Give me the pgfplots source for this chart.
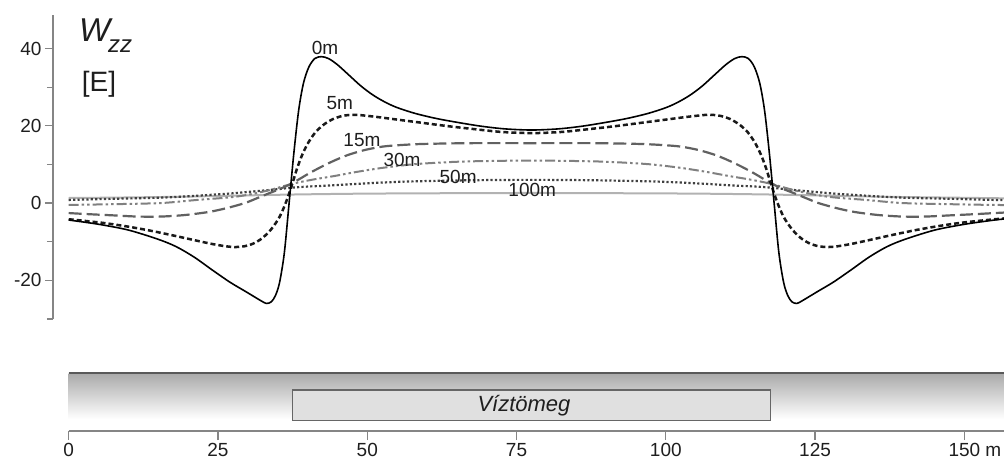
\documentclass[border=0pt]{standalone}
\usepackage{fontspec}
\setmainfont{Liberation Sans}
\usepackage{pgfplots}
\pgfplotsset{compat=1.18}
\definecolor{axgray}{HTML}{858585}
\definecolor{txt}{HTML}{1E1E1E}
\begin{document}
\begin{tikzpicture}[x=1pt,y=1pt]
\useasboundingbox (0,0) rectangle (1004,464);
\begin{axis}[
  at={(53pt,145.1pt)}, anchor=south west,
  scale only axis, width=951.3pt, height=303.9pt,
  xmin=-2.63, xmax=156.64, ymin=-30, ymax=48.68,
  axis x line=none, axis y line*=left,
  y axis line style={draw=axgray, line width=1.5pt},
  ytick={-20,0,20,40}, minor ytick={-30,-10,10,30},
  tick align=outside, major tick length=8pt, minor tick length=6pt,
  tick style={draw=axgray, line width=1.2pt},
  yticklabel style={font=\fontsize{19}{22}\selectfont, text=txt},
  /pgf/number format/assume math mode=true,
  every axis plot/.append style={smooth, tension=0.5},
]
% 100 m
\addplot[color=black!30, line width=2pt] coordinates {
(0,1.3) (7.5,1.4) (17.5,1.6) (27.5,1.9) (37.5,2.2) (47.5,2.4) (57.5,2.5) (77.5,2.6)
(97.5,2.5) (107.5,2.4) (117.5,2.2) (127.5,1.9) (137.5,1.6) (147.5,1.4) (157.5,1.2)};
% 50 m
\addplot[color=black!75, line width=2.2pt, dash pattern=on 2.2pt off 2.2pt] coordinates {
(0,0.8) (7.5,1.1) (15.5,1.4) (21.5,1.9) (26.5,2.4) (29.5,2.8) (34.5,3.5) (37.5,4.0) (40.5,4.3) (44.5,4.6) (47.5,4.9) (52.5,5.3) (57.5,5.6) (67.5,5.9) (77.5,6.0)
(87.5,5.9) (97.5,5.6) (102.5,5.3) (107.5,4.9) (110.5,4.6) (114.5,4.3) (117.5,4.0) (120.5,3.5) (125.5,2.8) (128.5,2.4) (133.5,1.9) (139.5,1.4) (147.5,1.1) (155,0.8) (157.5,0.8)};
% 30 m
\addplot[color=black!50, line width=2pt, dash pattern=on 10pt off 3pt on 2.5pt off 3pt on 2.5pt off 3pt] coordinates {
(0,-0.5) (7.5,-0.3) (15.5,0.0) (21.5,0.8) (26.5,1.4) (29.5,2.0) (33.5,3.3) (37.5,5.0) (41,6.1) (44.5,7.0) (48,8.0) (52.5,9.1) (57.5,10.0) (62.5,10.5) (67.5,10.8) (77.5,11.0)
(87.5,10.8) (92.5,10.5) (97.5,10.0) (102.5,9.1) (107,8.0) (110.5,7.0) (114,6.1) (117.5,5.0) (121.5,3.3) (125.5,2.0) (128.5,1.4) (133.5,0.8) (139.5,0.0) (147.5,-0.3) (155,-0.5) (157.5,-0.5)};
% 15 m
\addplot[color=black!62, line width=2.2pt, dash pattern=on 13pt off 5pt] coordinates {
(0,-2.6) (3.5,-2.9) (7.5,-3.2) (11.5,-3.5) (15.5,-3.5) (19.5,-3.1) (23.5,-2.3) (26.5,-1.3) (29.5,0.0) (31.3,1.1) (33.5,2.5) (35.3,3.6) (37.5,5.2) (40.5,7.9) (43.5,10.3) (46.5,12.3) (49.5,13.7) (52.5,14.6) (55.5,15.0) (59.5,15.3) (67.5,15.5) (77.5,15.5)
(87.5,15.5) (95.5,15.3) (99.5,15.0) (102.5,14.6) (105.5,13.7) (108.5,12.3) (111.5,10.3) (114.5,7.9) (117.5,5.2) (119.7,3.6) (121.5,2.5) (123.7,1.1) (125.5,0.0) (128.5,-1.3) (131.5,-2.3) (135.5,-3.1) (139.5,-3.5) (143.5,-3.5) (147.5,-3.2) (151.5,-2.9) (155,-2.6) (157.5,-2.4)};
% 5 m
\addplot[color=black!90, line width=2.5pt, dash pattern=on 5pt off 3pt] coordinates {
(0,-4.2) (5.5,-5.1) (9.5,-6.0) (13.5,-7.1) (17.5,-8.4) (21,-9.6) (24,-10.6) (26.3,-11.2) (27.9,-11.4) (29.4,-11.2) (30.9,-10.5) (32.4,-9.1) (33.9,-6.8) (35.3,-3.6) (36.4,0.3) (37.4,4.8) (38.2,8.8) (39.1,12.5) (40.1,15.6) (41.3,18.3) (42.7,20.3) (44.2,21.7) (45.7,22.5) (47,22.8) (48.5,22.8) (51.5,22.3) (54.5,21.7) (58.5,20.9) (63.5,19.9) (67.5,19.2) (72.5,18.4) (77.5,18.1)
(82.5,18.4) (87.5,19.2) (91.5,19.9) (96.5,20.9) (100.5,21.7) (103.5,22.3) (106.5,22.8) (108,22.8) (109.3,22.5) (110.8,21.7) (112.3,20.3) (113.7,18.3) (114.9,15.6) (115.9,12.5) (116.8,8.8) (117.6,4.8) (118.6,0.3) (119.7,-3.6) (121.1,-6.8) (122.6,-9.1) (124.1,-10.5) (125.6,-11.2) (127.1,-11.4) (128.7,-11.2) (131,-10.6) (134,-9.6) (137.5,-8.4) (141.5,-7.1) (145.5,-6.0) (149.5,-5.1) (155,-4.2) (157.5,-3.9)};
% 0 m
\addplot[color=black, line width=1.6pt] coordinates {
(0,-4.4) (5,-5.5) (10,-7.0) (15,-9.4) (18,-11.3) (21,-14.0) (24,-17.3) (27,-20.5) (29.5,-22.8) (31,-24.2) (32.3,-25.4) (33.1,-26.0) (33.9,-25.6) (34.6,-24.0) (35.3,-20.6) (36.1,-12.9) (36.9,0) (37.7,13) (38.5,24) (39.3,31.0) (40.2,35.2) (41.2,37.4) (42.3,37.9) (43.5,37.4) (45,35.8) (47,33.0) (49,30.2) (51,27.9) (53,26.1) (55,24.7) (58,23.2) (61.5,21.9) (65,20.9) (69,19.9) (73,19.2) (77.5,18.9)
(82,19.2) (86,19.9) (90,20.9) (93.5,21.9) (97,23.2) (100,24.7) (102,26.1) (104,27.9) (106,30.2) (108,33.0) (110,35.8) (111.5,37.4) (112.7,37.9) (113.8,37.4) (114.8,35.2) (115.7,31.0) (116.5,24) (117.3,13) (118.1,0) (118.9,-12.9) (119.7,-20.6) (120.4,-24.0) (121.1,-25.6) (121.9,-26.0) (122.7,-25.4) (124,-24.2) (125.5,-22.8) (128,-20.5) (131,-17.3) (134,-14.0) (137,-11.3) (140,-9.4) (145,-7.0) (150,-5.5) (155,-4.4) (157.5,-4.0)};
\begin{scope}[every node/.style={font=\fontsize{19}{22}\selectfont, text=txt, inner sep=0pt}]
\node at (axis cs:42.9,40.1) {0m};
\node at (axis cs:45.4,25.9) {5m};
\node at (axis cs:49.1,16.3) {15m};
\node at (axis cs:55.8,11.1) {30m};
\node at (axis cs:65.2,6.7) {50m};
\node at (axis cs:77.6,3.4) {100m};
\end{scope}
\end{axis}
\begin{axis}[
  at={(68.7pt,33pt)}, anchor=south west,
  scale only axis, width=935.3pt, height=60pt,
  xmin=0, xmax=156.64, ymin=0, ymax=60,
  axis y line=none, axis x line*=bottom,
  x axis line style={draw=axgray, line width=1.5pt},
  xtick={0,25,50,75,100,125,150},
  xticklabels={0,25,50,75,100,125,{150\rlap{\ m}}},
  tick align=outside, major tick length=9pt,
  tick style={draw=axgray, line width=1.2pt},
  xticklabel style={font=\fontsize{19}{22}\selectfont, text=txt},
  clip=false,
]
\shade[top color=black!33, bottom color=white] (axis cs:0,57) rectangle (axis cs:156.64,12);
\draw[line width=2pt, color=black!65] (axis cs:0,57.7) -- (axis cs:156.64,57.7);
\filldraw[fill=black!12, draw=black!60, line width=1.5pt] (axis cs:37.5,10.3) rectangle (axis cs:117.5,41);
\node[font=\fontsize{22}{26}\selectfont\itshape, text=txt] at (axis cs:76.25,25) {Víztömeg};
\end{axis}
\node[anchor=base west, inner sep=0pt, font=\fontsize{33}{36}\selectfont\itshape, text=txt] at (79,422) {W};
\node[anchor=base west, inner sep=0pt, font=\fontsize{24}{28}\selectfont\itshape, text=txt] at (108,411) {zz};
\node[anchor=base west, inner sep=0pt, font=\fontsize{28}{32}\selectfont, text=txt] at (81.7,372.3) {[E]};
\end{tikzpicture}
\end{document}
